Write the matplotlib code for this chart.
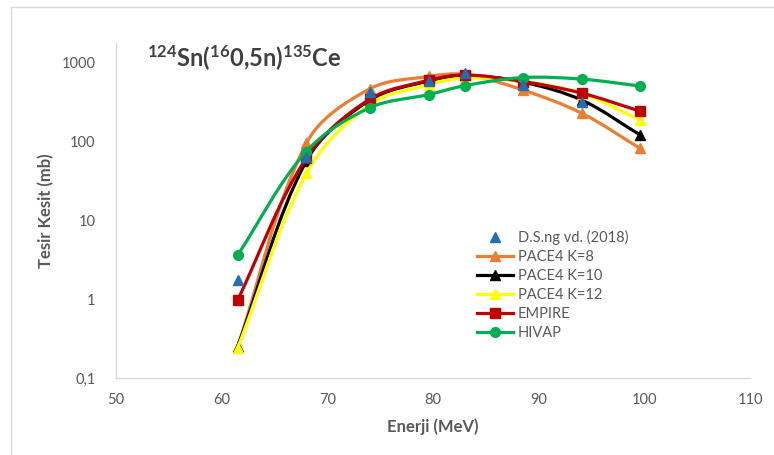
import matplotlib.pyplot as plt
import numpy as np
from matplotlib.path import Path
from matplotlib.patches import PathPatch, Rectangle
from matplotlib.lines import Line2D

plt.rcParams['font.family'] = ['Lato', 'DejaVu Sans']
plt.rcParams['mathtext.fontset'] = 'custom'
plt.rcParams['mathtext.rm'] = 'Lato'
plt.rcParams['mathtext.bf'] = 'Lato:bold'

# energies (MeV)
energy = [61.5, 68.0, 74.0, 79.6, 83.0, 88.5, 94.1, 99.6]

# measured data (no point at the last energy)
exp_energy = [61.5, 68.0, 74.0, 79.6, 83.0, 88.5, 94.1]
exp_sigma = [1.74, 63, 417, 575, 725, 515, 310]

pace4_k8 = [0.25, 94, 460, 660, 700, 445, 225, 81]
pace4_k10 = [0.25, 56, 330, 580, 680, 560, 330, 120]
pace4_k12 = [0.24, 39, 290, 520, 630, 570, 400, 185]
empire = [0.97, 61, 340, 590, 690, 570, 405, 240]
hivap = [3.6, 74, 265, 390, 505, 640, 610, 500]

xticks = [50, 60, 70, 80, 90, 100, 110]
yticks = [0.1, 1, 10, 100, 1000]
ytick_labels = ['0,1', '1', '10', '100', '1000']

# rough pixel scale of the axes, used only to make the smoothing look even
PX_PER_MEV = 10.57
PX_PER_DECADE = 79.0


def smooth_path(x, y):
    # smoothed line like Excel's: cubic bezier, tangent along neighbours,
    # handle length tied to the segment length, worked out in screen-like units
    X = np.asarray(x, float) * PX_PER_MEV
    Y = np.log10(np.asarray(y, float)) * PX_PER_DECADE
    P = np.column_stack([X, Y])
    n = len(P)

    def back(p):
        return (p[0] / PX_PER_MEV, 10 ** (p[1] / PX_PER_DECADE))

    verts = [back(P[0])]
    codes = [Path.MOVETO]
    for i in range(n - 1):
        p1, p2 = P[i], P[i + 1]
        seg = np.hypot(*(p2 - p1))
        d1 = P[i + 1] - P[max(i - 1, 0)]
        d2 = P[min(i + 2, n - 1)] - P[i]
        c1 = p1 + d1 / np.hypot(*d1) * seg / 3
        c2 = p2 - d2 / np.hypot(*d2) * seg / 3
        verts += [back(c1), back(c2), back(p2)]
        codes += [Path.CURVE4] * 3
    return Path(verts, codes)


fig = plt.figure(figsize=(7.74, 4.55), dpi=100)
ax = fig.add_axes([0.150, 0.169, 0.819, 0.736])

# chart border
fig.patches.append(Rectangle((11 / 774, -0.01), 1.0, 1 - 7 / 455 + 0.01,
                             transform=fig.transFigure, fill=False,
                             edgecolor='#d9d9d9', linewidth=1.0))

series = [
    ('PACE4 K=8', pace4_k8, '#ED7D31', '^', 7),
    ('PACE4 K=10', pace4_k10, '#000000', '^', 7),
    ('PACE4 K=12', pace4_k12, '#FFFF00', '^', 7),
    ('EMPIRE', empire, '#C00000', 's', 7),
    ('HIVAP', hivap, '#00B050', 'o', 7),
]

ax.set_yscale('log')
handles = [Line2D([], [], color='#1F6FB4', marker='^', linestyle='none',
                  markersize=7, label='D.S.ng vd. (2018)')]
for k, (name, vals, col, mk, ms) in enumerate(series):
    z = 2 + k
    ax.add_patch(PathPatch(smooth_path(energy, vals), facecolor='none',
                           edgecolor=col, linewidth=2.3, zorder=z,
                           capstyle='round', joinstyle='round'))
    ax.plot(energy, vals, linestyle='none', marker=mk, markersize=ms,
            color=col, zorder=z)
    handles.append(Line2D([], [], color=col, marker=mk, linewidth=2.3,
                          markersize=ms, label=name))

ax.plot(exp_energy, exp_sigma, linestyle='none', marker='^', markersize=7,
        color='#1F6FB4', zorder=10)

ax.set_xlim(50, 110)
ax.set_ylim(0.1, 1740)
ax.set_xticks(xticks)
ax.set_xticklabels([str(v) for v in xticks])
ax.set_yticks(yticks)
ax.set_yticklabels(ytick_labels)
ax.minorticks_off()
ax.tick_params(length=0, labelsize=10.5, colors='#595959')
ax.tick_params(axis='x', pad=11)
ax.tick_params(axis='y', pad=15)

for s in ['top', 'right']:
    ax.spines[s].set_visible(False)
for s in ['left', 'bottom']:
    ax.spines[s].set_color('#d9d9d9')
    ax.spines[s].set_linewidth(1.0)

ax.set_xlabel('Enerji (MeV)', fontsize=12, fontweight='bold', color='#595959',
              labelpad=8)
ax.set_ylabel('Tesir Kesit (mb)', fontsize=12, fontweight='bold', color='#595959',
              labelpad=5)

ax.text(0.048, 0.955, r'$\mathbf{^{124}Sn(^{16}0{,}5n)^{135}Ce}$',
        transform=ax.transAxes, fontsize=17, color='#404040', va='center')

ax.legend(handles=handles, loc='upper left', bbox_to_anchor=(0.56, 0.46),
          frameon=False, fontsize=10.5, labelcolor='#595959',
          handlelength=2.5, handletextpad=0.3, labelspacing=0.35,
          borderaxespad=0)

fig.savefig('out.png', dpi=100)
